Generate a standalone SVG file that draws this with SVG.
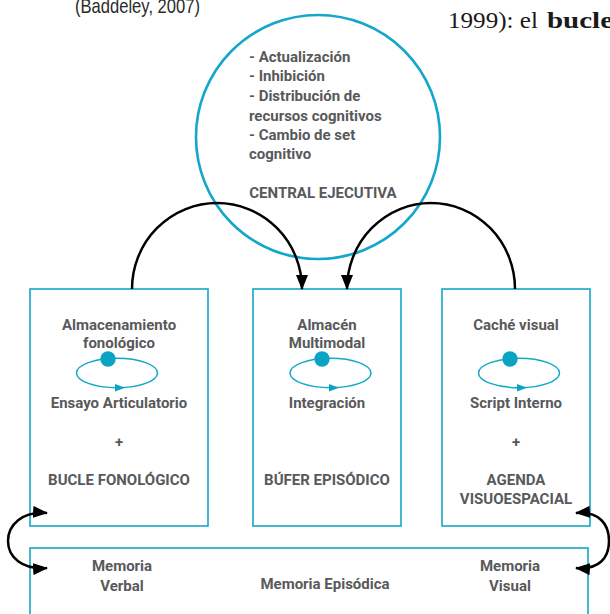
<svg xmlns="http://www.w3.org/2000/svg" width="610" height="614" viewBox="0 0 610 614">
  <style>
    .box{fill:none;stroke:#14a7c9;stroke-width:1.6}
    .ring{fill:none;stroke:#14a7c9;stroke-width:2.6}
    .lbl{font-family:Roboto,"Liberation Sans",sans-serif;font-weight:700;font-size:15px;fill:#58595b;text-anchor:middle}
    .lft{text-anchor:start}
    .loop{fill:none;stroke:#14a7c9;stroke-width:1.5}
    .teal{fill:#0aa3c4}
    .link{fill:none;stroke:#000;stroke-width:2.5}
    .page{font-family:"Liberation Serif",serif;fill:#1a1a1a}
  </style>
  <defs>
    <marker id="ah" markerUnits="userSpaceOnUse" viewBox="0 0 15 12" markerWidth="15" markerHeight="12" refX="14" refY="6" orient="auto-start-reverse">
      <path d="M0,0 L15,6 L0,12 z" fill="#000"/>
    </marker>
  </defs>

  <!-- surrounding page text -->
  <text x="75" y="12.5" font-family="'Liberation Sans Narrow','Liberation Sans',sans-serif" font-size="21" fill="#2a2a2a" textLength="125" lengthAdjust="spacingAndGlyphs">(Baddeley, 2007)</text>
  <text class="page" x="448" y="28" font-size="23" textLength="90" lengthAdjust="spacingAndGlyphs">1999): el</text>
  <text class="page" x="547" y="28" font-size="23" font-weight="700" textLength="66" lengthAdjust="spacingAndGlyphs">bucle</text>

  <!-- central executive -->
  <g id="central">
    <circle class="ring" cx="318" cy="137" r="122"/>
    <text class="lbl lft" x="249" y="62">- Actualización</text>
    <text class="lbl lft" x="249" y="81">- Inhibición</text>
    <text class="lbl lft" x="249" y="101">- Distribución de</text>
    <text class="lbl lft" x="249" y="121">recursos cognitivos</text>
    <text class="lbl lft" x="249" y="140">- Cambio de set</text>
    <text class="lbl lft" x="249" y="159">cognitivo</text>
    <text class="lbl" x="323" y="198">CENTRAL EJECUTIVA</text>
  </g>

  <!-- phonological loop -->
  <g id="bucle">
    <rect class="box" x="30" y="289" width="178" height="237"/>
    <text class="lbl" x="119" y="330">Almacenamiento</text>
    <text class="lbl" x="119" y="348">fonológico</text>
    <ellipse class="loop" cx="117" cy="373" rx="40.5" ry="14.7"/>
    <circle class="teal" cx="108" cy="359" r="7.7"/>
    <path class="teal" d="M115,384 L125,387.7 L115,391.4 z"/>
    <text class="lbl" x="119" y="408">Ensayo Articulatorio</text>
    <text class="lbl" x="119" y="447">+</text>
    <text class="lbl" x="119" y="485">BUCLE FONOLÓGICO</text>
  </g>

  <!-- episodic buffer -->
  <g id="bufer">
    <rect class="box" x="253" y="289" width="148" height="237"/>
    <text class="lbl" x="327" y="330">Almacén</text>
    <text class="lbl" x="327" y="348">Multimodal</text>
    <ellipse class="loop" cx="330.5" cy="373" rx="40.5" ry="14.7"/>
    <circle class="teal" cx="322" cy="359" r="7.7"/>
    <path class="teal" d="M329,384 L339,387.7 L329,391.4 z"/>
    <text class="lbl" x="327" y="408">Integración</text>
    <text class="lbl" x="327" y="485">BÚFER EPISÓDICO</text>
  </g>

  <!-- visuospatial sketchpad -->
  <g id="agenda">
    <rect class="box" x="442" y="289" width="148" height="237"/>
    <text class="lbl" x="516" y="330">Caché visual</text>
    <ellipse class="loop" cx="519" cy="373" rx="40.5" ry="14.7"/>
    <circle class="teal" cx="510" cy="359" r="7.7"/>
    <path class="teal" d="M517,384 L527,387.7 L517,391.4 z"/>
    <text class="lbl" x="516" y="408">Script Interno</text>
    <text class="lbl" x="516" y="447">+</text>
    <text class="lbl" x="516" y="485">AGENDA</text>
    <text class="lbl" x="516" y="504">VISUOESPACIAL</text>
  </g>

  <!-- long-term memory -->
  <g id="memoria">
    <rect class="box" x="30" y="548" width="558" height="80"/>
    <text class="lbl" x="122" y="571">Memoria</text>
    <text class="lbl" x="122" y="591">Verbal</text>
    <text class="lbl" x="325" y="589">Memoria Episódica</text>
    <text class="lbl" x="510" y="571">Memoria</text>
    <text class="lbl" x="510" y="591">Visual</text>
  </g>

  <!-- connectors -->
  <g id="connectors">
    <path class="link" d="M132,289 A85,86 0 0 1 302,289" marker-end="url(#ah)"/>
    <path class="link" d="M515,289 A84,86 0 0 0 347,289" marker-end="url(#ah)"/>
    <path class="link" d="M47,513 C22,511 8,525 8,541 C8,557 22,570 47,568" marker-start="url(#ah)" marker-end="url(#ah)"/>
    <path class="link" d="M576,513 C600,511 609,525 609,541 C609,557 600,570 576,568" marker-start="url(#ah)" marker-end="url(#ah)"/>
  </g>
</svg>
